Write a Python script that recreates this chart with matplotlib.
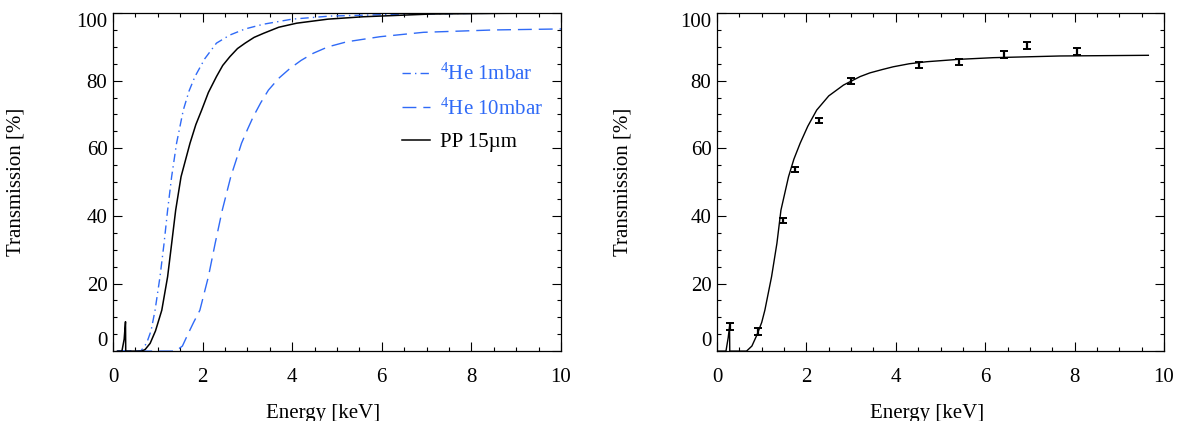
import matplotlib
matplotlib.use('Agg')
import matplotlib.pyplot as plt
from matplotlib.ticker import MultipleLocator

plt.rcParams['font.family'] = ['Liberation Serif', 'DejaVu Serif']
plt.rcParams['mathtext.fontset'] = 'custom'
plt.rcParams['mathtext.rm'] = 'Liberation Serif'

BLUE = '#2f6af7'

# left panel: calculated transmission curves
e_pp = [0.1, 0.2, 0.25, 0.28, 0.285, 0.64, 0.72, 0.83, 0.95, 1.09, 1.22, 1.31, 1.40,
        1.52, 1.72, 1.85, 1.98, 2.13, 2.31, 2.45, 2.61, 2.78, 2.95, 3.15, 3.36, 3.7,
        4.1, 4.8, 5.58, 7.08, 8.5, 9.64]
t_pp = [0, 0, 3.5, 8.7, 0, 0, 0.5, 2.3, 6.0, 12.1, 22, 31.8, 41.7,
        51.6, 61.5, 67.0, 71.3, 76.5, 81.2, 84.5, 87.1, 89.5, 91.1, 92.8, 94.0, 95.8,
        97.0, 98.2, 98.9, 99.7, 99.9, 100]

e_he1 = [0.1, 0.62, 0.75, 0.85, 0.94, 1.05, 1.14, 1.22, 1.31, 1.42, 1.57, 1.70,
         1.83, 2.05, 2.31, 2.61, 2.95, 3.36, 4.0, 4.84, 6.5, 8.0, 10.0]
t_he1 = [0, 0, 2.3, 6.0, 12.1, 22, 31.8, 41.7, 51.6, 61.5, 71.3, 77.0,
         81.2, 86.5, 91.1, 93.5, 95.3, 96.7, 98.2, 99.1, 99.7, 99.9, 100]

e_he10 = [0.1, 1.40, 1.55, 1.68, 1.80, 1.94, 2.13, 2.28, 2.44, 2.63, 2.75, 2.87,
          3.0, 3.13, 3.3, 3.47, 3.7, 3.95, 4.2, 4.47, 4.8, 5.22, 5.96, 6.93, 8.5, 10.0]
t_he10 = [0, 0, 1.5, 5.2, 8.5, 12.1, 22, 31.8, 41.7, 51.6, 56.5, 61.5,
          65.5, 69.3, 73.5, 77.2, 80.7, 83.6, 86.0, 88.1, 90.0, 91.5, 93.0, 94.3, 95.0, 95.3]

# right panel: fit curve and measured points
e_fit = [0.0, 0.2, 0.25, 0.28, 0.285, 0.66, 0.78, 0.89, 1.0, 1.07, 1.22, 1.34, 1.43,
         1.60, 1.72, 1.86, 2.03, 2.23, 2.5, 2.83, 3.2, 3.42, 3.7, 3.94, 4.3, 4.69,
         5.4, 6.18, 7.67, 9.65]
t_fit = [0, 0, 4.0, 7.3, 0, 0, 1.5, 4.7, 8.5, 12.1, 22, 31.9, 41.7,
         51.6, 56.8, 61.5, 66.5, 71.3, 75.5, 78.7, 81.2, 82.3, 83.3, 84.1, 85.0, 85.6,
         86.3, 86.8, 87.3, 87.5]

e_meas = [0.28, 0.92, 1.48, 1.74, 2.29, 2.99, 4.52, 5.42, 6.41, 6.94, 8.05]
t_meas = [7.2, 5.9, 38.6, 53.8, 68.3, 79.9, 84.5, 85.6, 87.8, 90.5, 88.7]
err_meas = [1.0, 1.0, 0.8, 0.8, 0.8, 0.9, 0.9, 0.9, 1.0, 1.0, 1.0]


def style_axes(ax, label_x):
    ax.set_xlim(0, 10)
    ax.set_ylim(0, 100)
    ax.set_xticks([0, 2, 4, 6, 8, 10])
    ax.set_yticks([0, 20, 40, 60, 80, 100])
    ax.xaxis.set_minor_locator(MultipleLocator(0.5))
    ax.yaxis.set_minor_locator(MultipleLocator(5))
    ax.tick_params(which='both', direction='in', top=True, right=True, width=0.8,
                   labelsize=15)
    ax.tick_params(which='major', length=6.5)
    ax.tick_params(which='minor', length=3.2)
    ax.tick_params(axis='x', pad=12)
    ax.tick_params(axis='y', pad=4)
    for s in ax.spines.values():
        s.set_linewidth(0.9)
    labels = ax.get_yticklabels()
    labels[0].set_va('bottom')
    labels[-1].set_va('top')
    ax.set_xlabel('Energy [keV]', fontsize=15)
    ax.set_ylabel('Transmission [%]', fontsize=15)
    ax.xaxis.set_label_coords(0.47, -0.155)
    ax.yaxis.set_label_coords(label_x, 0.5)


fig = plt.figure(figsize=(11.84, 4.21), dpi=100)
ax1 = fig.add_axes([0.0954, 0.166, 0.3784, 0.803])
ax2 = fig.add_axes([0.6056, 0.166, 0.3775, 0.803])

ax1.plot(e_he1, t_he1, color=BLUE, lw=1.0, dashes=(6, 3, 1, 3),
         label=r'$\mathregular{^4}$He 1mbar')
ax1.plot(e_he10, t_he10, color=BLUE, lw=1.0, dashes=(10, 5),
         label=r'$\mathregular{^4}$He 10mbar')
ax1.plot(e_pp, t_pp, color='black', lw=1.1, label='PP 15µm')
leg = ax1.legend(loc='upper left', bbox_to_anchor=(0.645, 0.85), frameon=False,
                 fontsize=15, handlelength=1.35, handletextpad=0.5,
                 labelspacing=0.64, borderpad=0, borderaxespad=0)
for txt, col in zip(leg.get_texts(), [BLUE, BLUE, 'black']):
    txt.set_color(col)
style_axes(ax1, -0.196)

ax2.plot(e_fit, t_fit, color='black', lw=1.0)
ax2.errorbar(e_meas, t_meas, yerr=err_meas, fmt='none', ecolor='black',
             elinewidth=1.6, capsize=3, capthick=1.4)
style_axes(ax2, -0.19)

fig.savefig('out.png', dpi=100)
